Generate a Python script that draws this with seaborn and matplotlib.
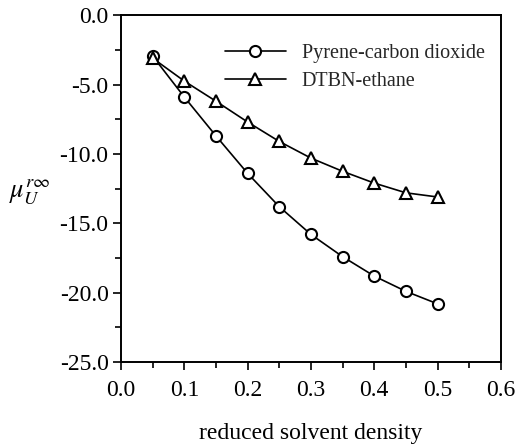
import matplotlib
matplotlib.use("Agg")
import matplotlib.pyplot as plt
import seaborn as sns
import pandas as pd
from matplotlib.ticker import MultipleLocator

sns.set_theme(style="ticks")
plt.rcParams['font.family'] = ['Liberation Serif', 'DejaVu Serif']
plt.rcParams['mathtext.fontset'] = 'stix'

density = [0.05, 0.10, 0.15, 0.20, 0.25, 0.30, 0.35, 0.40, 0.45, 0.50]
pyrene_co2 = [-2.95, -5.9, -8.7, -11.4, -13.8, -15.8, -17.4, -18.8, -19.9, -20.8]
dtbn_ethane = [-3.1, -4.75, -6.2, -7.7, -9.1, -10.3, -11.25, -12.1, -12.8, -13.1]
series_names = ["Pyrene-carbon dioxide", "DTBN-ethane"]

df = pd.concat([
    pd.DataFrame({"x": density, "y": pyrene_co2, "s": series_names[0]}),
    pd.DataFrame({"x": density, "y": dtbn_ethane, "s": series_names[1]}),
])

fig = plt.figure(figsize=(5.18, 4.46), dpi=100)
ax = fig.add_axes([0.2336, 0.188, 0.7334, 0.778])

sns.lineplot(data=df, x="x", y="y", hue="s", style="s",
             palette=["black", "black"], markers=["o", "^"], dashes=False,
             markersize=8, markerfacecolor="white", markeredgecolor="black",
             markeredgewidth=1.5, linewidth=1.2, ax=ax)

ax.set_xlim(0, 0.6)
ax.set_ylim(-25, 0)
ax.xaxis.set_major_locator(MultipleLocator(0.1))
ax.xaxis.set_minor_locator(MultipleLocator(0.05))
ax.yaxis.set_major_locator(MultipleLocator(5))
ax.yaxis.set_minor_locator(MultipleLocator(2.5))
ax.set_xticklabels([f"{v:.1f}" for v in ax.get_xticks()])
ax.set_yticklabels([f"{v:.1f}" for v in ax.get_yticks()])
ax.tick_params(which="major", direction="out", length=6, width=1.2, labelsize=17, colors="black", pad=3)
ax.tick_params(axis="x", which="major", pad=7)
ax.tick_params(which="minor", direction="out", length=4, width=1.2, colors="black")
for sp in ax.spines.values():
    sp.set_linewidth(1.4)
    sp.set_color("black")

ax.set_xlabel("reduced solvent density", fontsize=17, labelpad=16, color="black")
ax.set_ylabel(r"$\mu_U^{r\infty}$", fontsize=19, rotation=0, color="black", va="center", ha="center")
ax.yaxis.set_label_coords(-0.24, 0.49)

leg = ax.legend(loc="upper right", bbox_to_anchor=(1.005, 0.97), frameon=False,
                fontsize=14.5, handlelength=3.0, handletextpad=0.8, labelspacing=0.45)
for h in leg.legend_handles:
    h.set_markerfacecolor("white")
    h.set_markeredgecolor("black")

fig.savefig("out.png", dpi=100)
